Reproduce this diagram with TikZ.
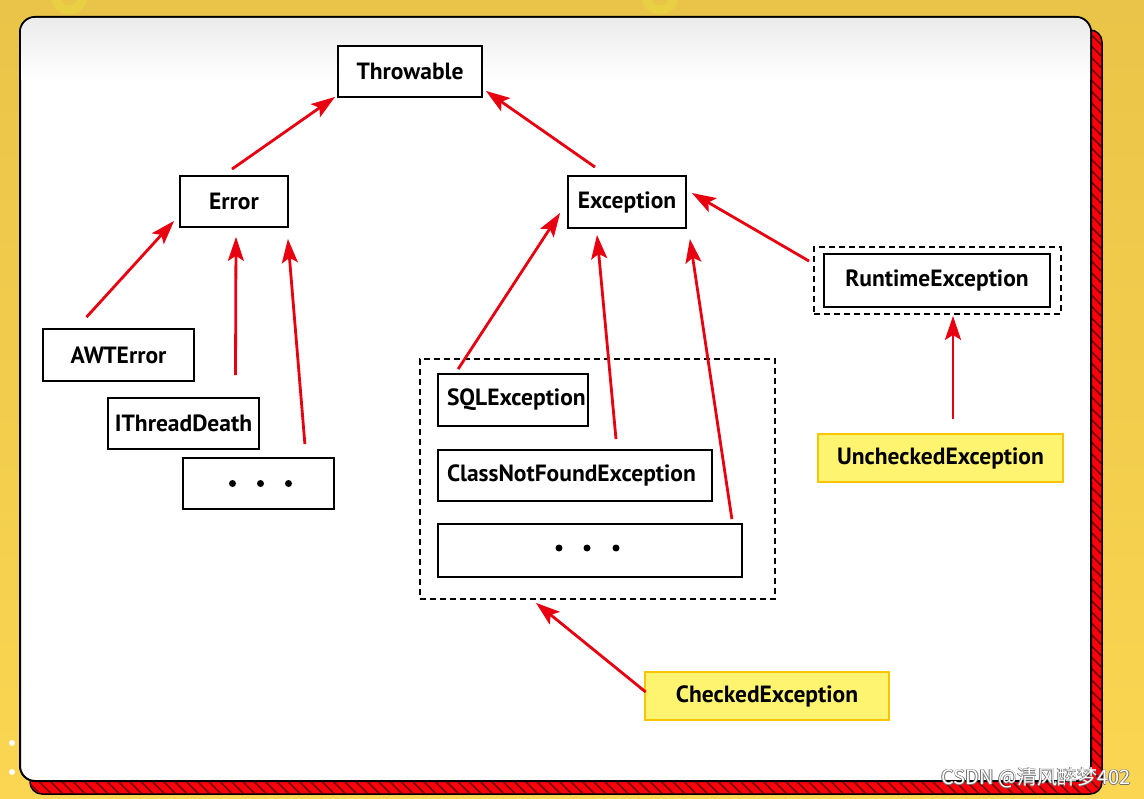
\documentclass[tikz,border=0pt]{standalone}
\usepackage{fontspec}
\setmainfont{PT Sans}
\newfontfamily\cjkfont{Noto Sans CJK SC}
\usetikzlibrary{arrows.meta,patterns.meta}
\definecolor{bgyellow}{RGB}{250,214,82}
\definecolor{bgtop}{RGB}{234,196,72}
\definecolor{arrred}{RGB}{232,0,16}
\definecolor{boxyellow}{RGB}{255,244,112}
\definecolor{boxborder}{RGB}{248,198,0}
\definecolor{ropered}{RGB}{252,0,12}
\definecolor{ringcol}{RGB}{232,228,60}
\begin{document}
\begin{tikzpicture}[x=1pt,y=-1pt,
  box/.style={draw=black, line width=1.8pt, fill=white, inner sep=0pt,
    font=\bfseries\fontsize{23.5}{26}\selectfont},
  lbox/.style={box, inner xsep=9pt, align=left},
  ybox/.style={box, draw=boxborder, line width=2.6pt, fill=boxyellow},
  dbox/.style={draw=black, line width=1.8pt, dash pattern=on 6pt off 4pt, inner sep=0pt},
  arr/.style={draw=arrred, line width=2.8pt, -{Stealth[length=24pt,width=16pt,inset=5pt]}},
  dot/.style={fill=black},
  wm/.style={font=\cjkfont\fontsize{20}{20}\selectfont, inner sep=0pt}
]
\useasboundingbox (0,0) rectangle (1144,799);
% background
\shade[top color=bgtop, bottom color=bgyellow] (0,0) rectangle (1144,799);
\draw[ringcol, line width=9pt, opacity=0.4] (69,-4) circle (14);
\draw[ringcol, line width=9pt, opacity=0.4] (660,-4) circle (14);
\fill[white] (12,743) circle (3);
\fill[white] (12,772) circle (3);
% rope shadow
\draw[black, line width=1.5pt, fill=ropered, rounded corners=12pt] (30,30) rectangle (1102,794);
\fill[pattern={Lines[angle=135,distance=8pt,line width=1.6pt]}, pattern color=black!55!ropered, rounded corners=12pt] (31,31) rectangle (1101,793);
% panel
\draw[black, line width=2pt, fill=white, rounded corners=15pt] (20,17) rectangle (1091,781);
\begin{scope}
  \clip[rounded corners=14pt] (21,18) rectangle (1090,780);
  \shade[top color=black!8, bottom color=white] (20,17) rectangle (1091,80);
\end{scope}

% nodes
\node[box, minimum width=144pt, minimum height=51pt] (thr) at (410,71.5) {Throwable};
\node[box, minimum width=108pt, minimum height=51pt] (err) at (234,201.5) {Error};
\node[box, minimum width=118pt, minimum height=52pt] (exc) at (627,202) {Exception};
\node[dbox, minimum width=247pt, minimum height=67pt] (rtout) at (937.5,280.5) {};
\node[box, minimum width=226pt, minimum height=53pt] (rt) at (937,280.5) {RuntimeException};
\node[box, minimum width=151pt, minimum height=52pt] (awt) at (118.5,355) {AWTError};
\node[box, minimum width=151pt, minimum height=51pt] (itd) at (183.5,423.5) {IThreadDeath};
\node[box, minimum width=151pt, minimum height=51pt] (dotsA) at (258.5,483.5) {};
\node[dbox, minimum width=355pt, minimum height=240pt] (cont) at (597.5,479) {};
\node[lbox, text width=132pt, minimum height=52pt] (sql) at (513,400) {SQLException};
\node[lbox, text width=256pt, minimum height=51pt] (cnf) at (575,475.5) {ClassNotFoundException};
\node[box, minimum width=304pt, minimum height=53pt] (dotsB) at (590,550.5) {};
\node[ybox, minimum width=245pt, minimum height=48pt] (unc) at (940.5,458) {UncheckedException};
\node[ybox, minimum width=244pt, minimum height=48pt] (chk) at (767,696) {CheckedException};

% dots
\foreach \dx in {-26,2,30} \fill[dot] ([xshift=\dx pt]dotsA.center) circle (3.5pt);
\foreach \dx in {-31,-3,26} \fill[dot] ([xshift=\dx pt, yshift=2.5pt]dotsB.center) circle (3.5pt);

% arrows
\draw[arr] ([xshift=-2pt,yshift=6pt]err.north) -- ([xshift=-2pt,yshift=1pt]thr.south west);
\draw[arr] ([xshift=-32pt,yshift=8pt]exc.north) -- ([xshift=3pt,yshift=7pt]thr.south east);
\draw[arr] ([xshift=-32pt,yshift=11pt]awt.north) -- ([xshift=-5pt,yshift=7pt]err.south west);
\draw[arr] ([xshift=52pt,yshift=22pt]itd.north) -- ([xshift=2pt,yshift=-9pt]err.south);
\draw[arr] ([xshift=-30pt,yshift=13pt]dotsA.north east) -- ([xshift=-1pt,yshift=-11pt]err.south east);
\draw[arr] ([xshift=21pt,yshift=4pt]sql.north west) -- ([xshift=-7pt,yshift=16pt]exc.south west);
\draw[arr] ([xshift=41pt,yshift=10pt]cnf.north) -- ([xshift=-30pt,yshift=-6pt]exc.south);
\draw[arr] ([xshift=-11pt,yshift=4pt]dotsB.north east) -- ([xshift=3pt,yshift=-10pt]exc.south east);
\draw[arr] ([xshift=-4pt,yshift=-15pt]rtout.north west) -- ([xshift=5pt,yshift=9pt]exc.east);
\draw[arr] ([xshift=12.5pt,yshift=14pt]unc.north) -- ([xshift=15.5pt,yshift=-1pt]rtout.south);
\draw[arr] ([xshift=2pt,yshift=4pt]chk.west) -- ([xshift=-61.5pt,yshift=-3pt]cont.south);

% watermark
\foreach \ox/\oy [count=\i] in {0.7/0, -0.7/0, 0/0.7, 0/-0.7}
  \node[wm, text=black!55] (wms\i) at (1036+\ox,778+\oy) {CSDN @清风醉梦402};
\node[wm, text=white] (wm) at (1036,778) {CSDN @清风醉梦402};
\end{tikzpicture}
\end{document}
